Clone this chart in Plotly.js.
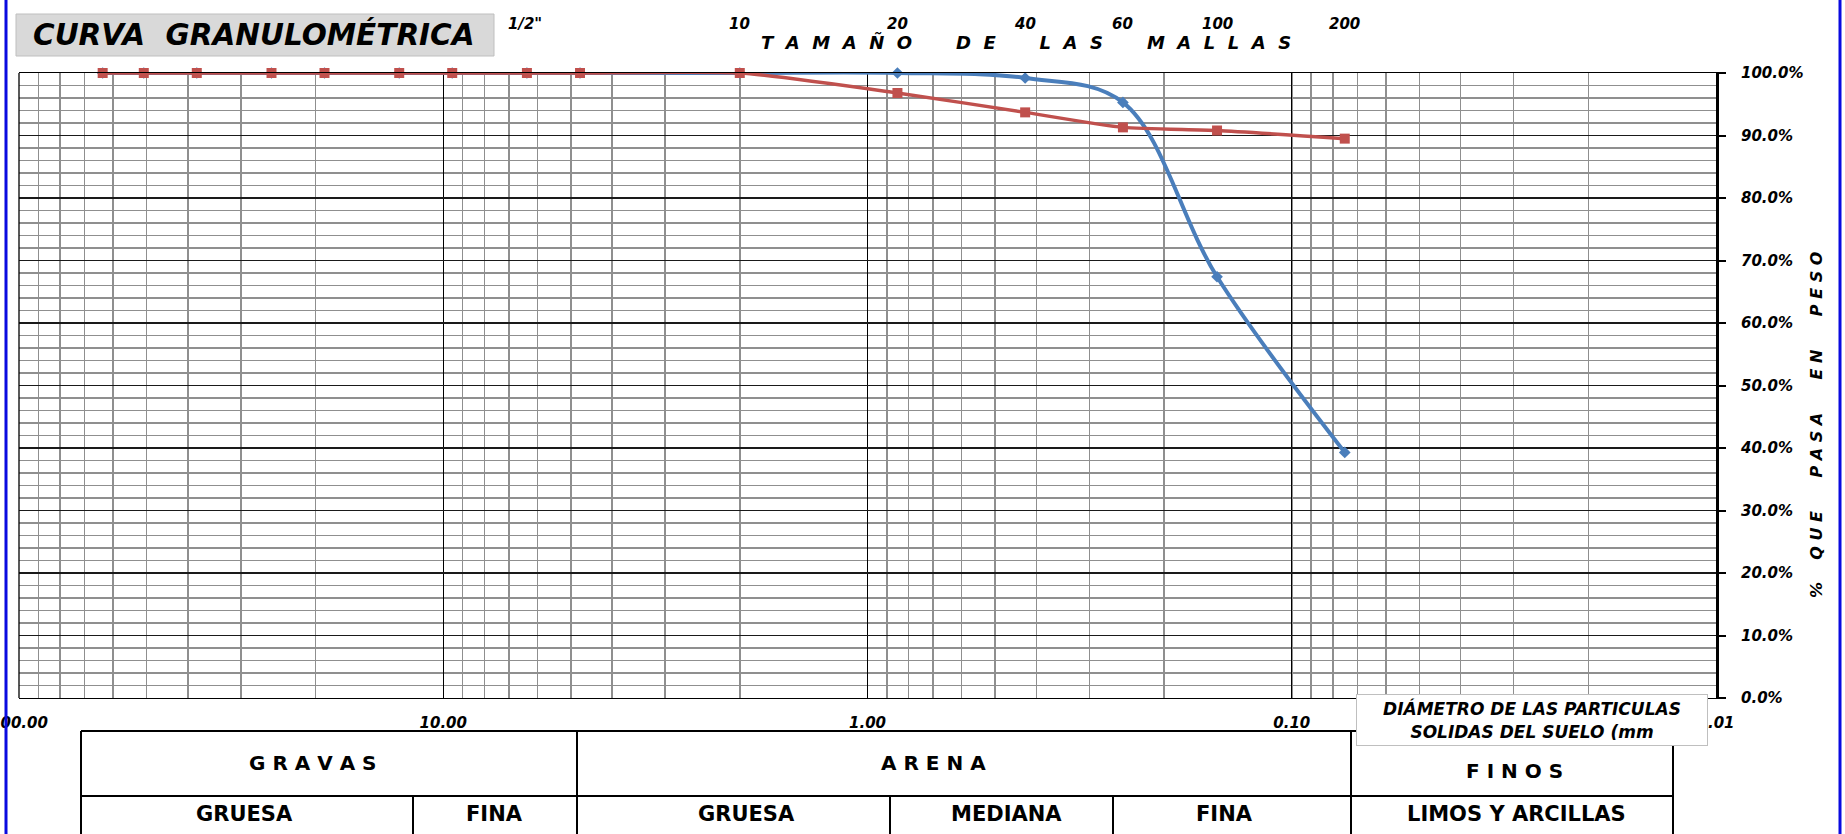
<!DOCTYPE html>
<html>
<head>
<meta charset="utf-8">
<script src="https://cdn.plot.ly/plotly-3.0.1.min.js"></script>
<style>
  html, body { margin: 0; padding: 0; background: #ffffff; }
  #chart { width: 1845px; height: 834px; }
</style>
</head>
<body>
<div id="chart"></div>
<script>
// ---------------- DATA ----------------
const sieveNames  = ['2 1/2"', '2"', '1 1/2"', '1"', '3/4"', '1/2"', '3/8"', '1/4"', 'N°4', 'N°10', 'N°20', 'N°40', 'N°60', 'N°100', 'N°200'];
const sieveSizesMm = [63.5, 50.8, 38.1, 25.4, 19.05, 12.7, 9.525, 6.35, 4.76, 2.0, 0.85, 0.425, 0.25, 0.15, 0.075];
const passingBlue = [100, 100, 100, 100, 100, 100, 100, 100, 100, 100, 100, 99.2, 95.3, 67.4, 39.3];
const passingRed  = [100, 100, 100, 100, 100, 100, 100, 100, 100, 100, 96.8, 93.7, 91.3, 90.8, 89.5];

const meshLabels   = ['10', '20', '40', '60', '100', '200'];
const meshSizesMm  = [2.0, 0.85, 0.425, 0.25, 0.15, 0.075];

const xTickVals   = [100, 10, 1, 0.1, 0.01];

const tableTop    = ['G R A V A S', 'A R E N A', 'F I N O S'];
const tableBottom = ['GRUESA', 'FINA', 'GRUESA', 'MEDIANA', 'FINA', 'LIMOS Y ARCILLAS'];

const chartTitle  = 'CURVA  GRANULOMÉTRICA';
const xTitleLines = ['DIÁMETRO DE LAS PARTICULAS', 'SOLIDAS DEL SUELO (mm'];

// ---------------- LAYOUT HELPERS (pixel -> paper) ----------------
const W = 1845, H = 834;
const PL = 19, PR = 1716, PT = 73, PB = 698;
const px = x => (x - PL) / (PR - PL);
const py = y => (PB - y) / (PB - PT);
const nb = n => '\u00a0'.repeat(n);
const spaced = (word, gap) => word.split('').join(nb(gap));

const calFont = (size) => ({family: 'DejaVu Sans', size: size, color: '#000', weight: 'bold', style: 'italic'});
const arialFont = (size) => ({family: 'DejaVu Sans', size: size, color: '#000', weight: 'bold'});

// ---------------- TRACES ----------------
const traces = [
  {
    x: sieveSizesMm, y: passingBlue, text: sieveNames,
    type: 'scatter', mode: 'lines+markers', cliponaxis: false,
    line: {color: '#4a7ebb', width: 4, shape: 'spline', smoothing: 1},
    marker: {symbol: 'diamond', size: 9, color: '#4a7ebb'},
    showlegend: false, hoverinfo: 'x+y+text'
  },
  {
    x: sieveSizesMm, y: passingRed, text: sieveNames,
    type: 'scatter', mode: 'lines+markers', cliponaxis: false,
    line: {color: '#c0504d', width: 3.5, shape: 'spline', smoothing: 0.6},
    marker: {symbol: 'square', size: 10, color: '#c0504d'},
    showlegend: false, hoverinfo: 'x+y+text'
  }
];

// ---------------- SHAPES ----------------
const shapes = [];
const pline = (x0, y0, x1, y1, color, width) => shapes.push({
  type: 'line', xref: 'paper', yref: 'paper',
  x0: px(x0), y0: py(y0), x1: px(x1), y1: py(y1),
  line: {color: color, width: width}
});
// left frame of plot
pline(PL, PT, PL, PB, '#000', 1.3);
// title box
shapes.push({type: 'rect', xref: 'paper', yref: 'paper', layer: 'below',
  x0: px(16), x1: px(494), y0: py(14), y1: py(56),
  fillcolor: '#d9d9d9', line: {color: '#bfbfbf', width: 1}});
// table
const tT = 731, tM = 796, tBot = 840, tL = 81, tR = 1673;
pline(tL, tT, tR, tT, '#000', 2);
pline(tL, tM, tR, tM, '#000', 2);
pline(tL, tT, tL, tBot, '#000', 2);
pline(tR, tT, tR, tBot, '#000', 2);
pline(577, tT, 577, tBot, '#000', 2);
pline(1351, tT, 1351, tBot, '#000', 2);
pline(413, tM, 413, tBot, '#000', 2);
pline(890, tM, 890, tBot, '#000', 2);
pline(1113, tM, 1113, tBot, '#000', 2);
// blue window frame
pline(6, -5, 6, 840, '#0a0ae0', 3);
pline(1840, -5, 1840, 840, '#0a0ae0', 3);

// ---------------- ANNOTATIONS ----------------
const annotations = [];
// mesh numbers above the plot
meshLabels.forEach((t, i) => annotations.push({
  text: t, xref: 'x', yref: 'paper', x: Math.log10(meshSizesMm[i]), y: py(24),
  showarrow: false, xanchor: 'center', yanchor: 'middle', font: calFont(15)
}));
annotations.push({text: '1/2"', xref: 'paper', yref: 'paper', x: px(525), y: py(24),
  showarrow: false, xanchor: 'center', yanchor: 'middle', font: calFont(15)});
// "TAMAÑO DE LAS MALLAS"
const topTitle = ['TAMAÑO', 'DE', 'LAS', 'MALLAS'].map(w => spaced(w, 2)).join(nb(7));
annotations.push({text: topTitle, xref: 'paper', yref: 'paper', x: px(1026), y: py(42),
  showarrow: false, xanchor: 'center', yanchor: 'middle', font: calFont(18)});
// right vertical axis title
const yTitle = '%' + nb(4) + ['QUE', 'PASA', 'EN', 'PESO'].map(w => spaced(w, 1)).join(nb(6));
annotations.push({text: yTitle, xref: 'paper', yref: 'paper', x: px(1817), y: py(425),
  textangle: -90, showarrow: false, xanchor: 'center', yanchor: 'middle', font: calFont(16)});
// x-axis title box
annotations.push({text: xTitleLines.join('<br>'), xref: 'paper', yref: 'paper',
  x: px(1532), y: py(720), showarrow: false, xanchor: 'center', yanchor: 'middle',
  width: 346, height: 46, bgcolor: '#ffffff', bordercolor: '#bfbfbf', borderwidth: 1, borderpad: 2,
  font: calFont(17)});
// table texts
const topX = [312, 933, 1514], topY = [763, 763, 771];
tableTop.forEach((t, i) => annotations.push({text: t.split(' ').join(nb(1)), xref: 'paper', yref: 'paper',
  x: px(topX[i]), y: py(topY[i]), showarrow: false, xanchor: 'center', yanchor: 'middle', font: arialFont(20)}));
const botX = [244, 494, 746, 1006, 1224, 1516];
tableBottom.forEach((t, i) => annotations.push({text: t, xref: 'paper', yref: 'paper',
  x: px(botX[i]), y: py(814), showarrow: false, xanchor: 'center', yanchor: 'middle', font: arialFont(21)}));

// ---------------- LAYOUT ----------------
const layout = {
  width: W, height: H,
  margin: {l: PL, r: W - PR, t: PT, b: H - PB, pad: 0},
  paper_bgcolor: '#ffffff', plot_bgcolor: '#ffffff',
  showlegend: false,
  title: {
    text: chartTitle, xref: 'container', yref: 'container',
    x: 33 / W, xanchor: 'left', y: 1 - 35 / H, yanchor: 'middle',
    font: {family: 'DejaVu Sans', size: 29.5, color: '#000', weight: 'bold', style: 'italic'}
  },
  xaxis: {
    type: 'log', range: [2, -2], autorange: false,
    tickvals: xTickVals, tickformat: '.2f', ticks: '',
    tickfont: calFont(15), ticklabelstandoff: 11, ticklabeloverflow: 'allow',
    showgrid: true, gridcolor: '#000000', gridwidth: 1.2,
    minor: {dtick: 'D1', showgrid: true, gridcolor: '#8f8f8f', gridwidth: 1.5, ticks: ''},
    showline: true, mirror: true, linecolor: '#000000', linewidth: 1.3,
    zeroline: false, fixedrange: true
  },
  yaxis: {
    range: [0, 100], autorange: false, side: 'right',
    dtick: 10, tick0: 0, tickformat: '.1f', ticksuffix: '%',
    tickfont: calFont(15), ticks: 'outside', ticklen: 7, tickwidth: 2, tickcolor: '#000',
    ticklabelstandoff: 12, ticklabeloverflow: 'allow',
    showgrid: true, gridcolor: '#1a1a1a', gridwidth: 1.5,
    minor: {dtick: 2, showgrid: true, gridcolor: '#8f8f8f', gridwidth: 1.5, ticks: ''},
    showline: true, linecolor: '#000000', linewidth: 3,
    zeroline: false, fixedrange: true
  },
  yaxis2: {
    overlaying: 'y', side: 'right', anchor: 'x', range: [0, 100], autorange: false,
    dtick: 10, tick0: 0, ticks: 'inside', ticklen: 7, tickwidth: 2, tickcolor: '#000',
    showticklabels: false, showgrid: false, zeroline: false, showline: false, fixedrange: true
  },
  shapes: shapes,
  annotations: annotations
};

Plotly.newPlot('chart', traces, layout, {displayModeBar: false, staticPlot: true});
</script>
</body>
</html>
